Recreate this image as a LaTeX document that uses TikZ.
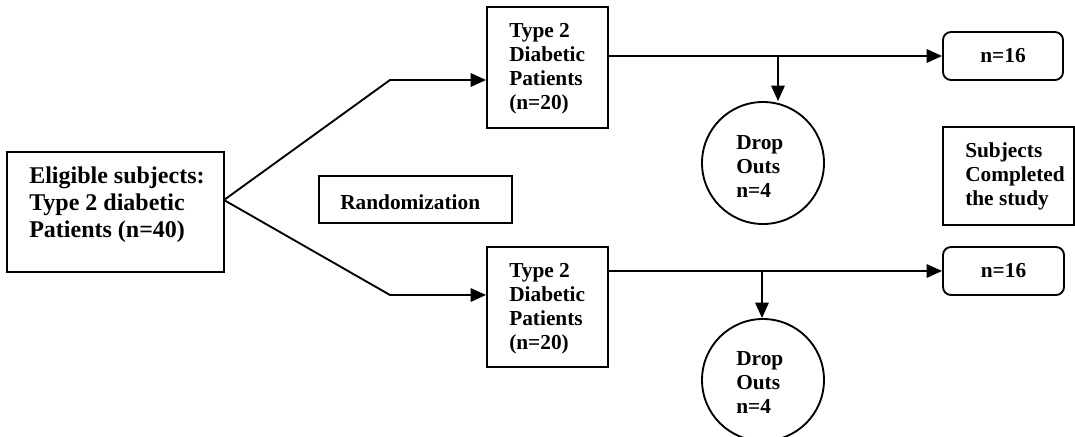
\documentclass[tikz,border=0pt]{standalone}
\usepackage{fontspec}
\setmainfont{Liberation Serif}
\usetikzlibrary{arrows.meta}
\begin{document}
\begin{tikzpicture}[x=0.75pt,y=-0.75pt,
  box/.style={draw, line width=1.4pt, rectangle, inner sep=0pt},
  rbox/.style={box, rounded corners=6pt},
  circ/.style={draw, line width=1.4pt, circle, inner sep=0pt, minimum size=91.5pt},
  txt/.style={font=\fontsize{16}{18}\selectfont\bfseries, align=left, inner sep=0pt, anchor=west},
  bigtxt/.style={font=\fontsize{18}{20.25}\selectfont\bfseries, align=left, inner sep=0pt, anchor=west},
  conn/.style={line width=1.4pt},
  arr/.style={conn, -{Triangle[length=11.5pt,width=10pt]}}]
\clip (0,0) rectangle (1075,436);
\fill[white] (0,0) rectangle (1075,436);
% boxes
\node[box, minimum width=162.75pt, minimum height=90pt] (elig) at (115.5,212) {};
\node[box, minimum width=90.75pt, minimum height=90.75pt] (up) at (547.5,67.5) {};
\node[box, minimum width=90.75pt, minimum height=90pt] (lo) at (547.5,307) {};
\node[box, minimum width=144.75pt, minimum height=35.25pt] (rand) at (415.5,199.5) {};
\node[rbox, minimum width=90pt, minimum height=36pt, font=\fontsize{16}{18}\selectfont\bfseries] (na) at (1003,56) {n=16};
\node[rbox, minimum width=90.75pt, minimum height=36pt, font=\fontsize{16}{18}\selectfont\bfseries] (nb) at (1003.5,271) {n=16};
\node[box, minimum width=98.25pt, minimum height=73.5pt] (subj) at (1008.5,176) {};
\node[circ] (da) at (763,163) {};
\node[circ] (db) at (763,380) {};
% texts
\node[bigtxt] (eligt) at (29,205) {Eligible subjects:\\Type 2 diabetic\\Patients (n=40)};
\node[txt] (upt) at (509,68.5) {Type 2\\Diabetic\\Patients\\(n=20)};
\node[txt] (lot) at (509,308.5) {Type 2\\Diabetic\\Patients\\(n=20)};
\node[txt] (randt) at (340,202) {Randomization};
\node[txt] (dat) at (736,167) {Drop\\Outs\\n=4};
\node[txt] (dbt) at (736,383) {Drop\\Outs\\n=4};
\node[txt] (subjt) at (965,176) {Subjects\\Completed\\the study};
% connectors
\coordinate (split) at (224,200);
\coordinate (bu) at (390,80);
\coordinate (bl) at (390,295);
\draw[arr] (split) -- (bu) -- (up.west |- bu);
\draw[arr] (split) -- (bl) -- (lo.west |- bl);
\draw[arr] (up.east |- na.west) -- (na.west);
\draw[arr] (lo.east |- nb.west) -- (nb.west);
\coordinate (ja) at (778,56);
\coordinate (jb) at (762,271);
\draw[arr] (ja) -- (da.north -| ja);
\draw[arr] (jb) -- (db.north -| jb);
\end{tikzpicture}
\end{document}
